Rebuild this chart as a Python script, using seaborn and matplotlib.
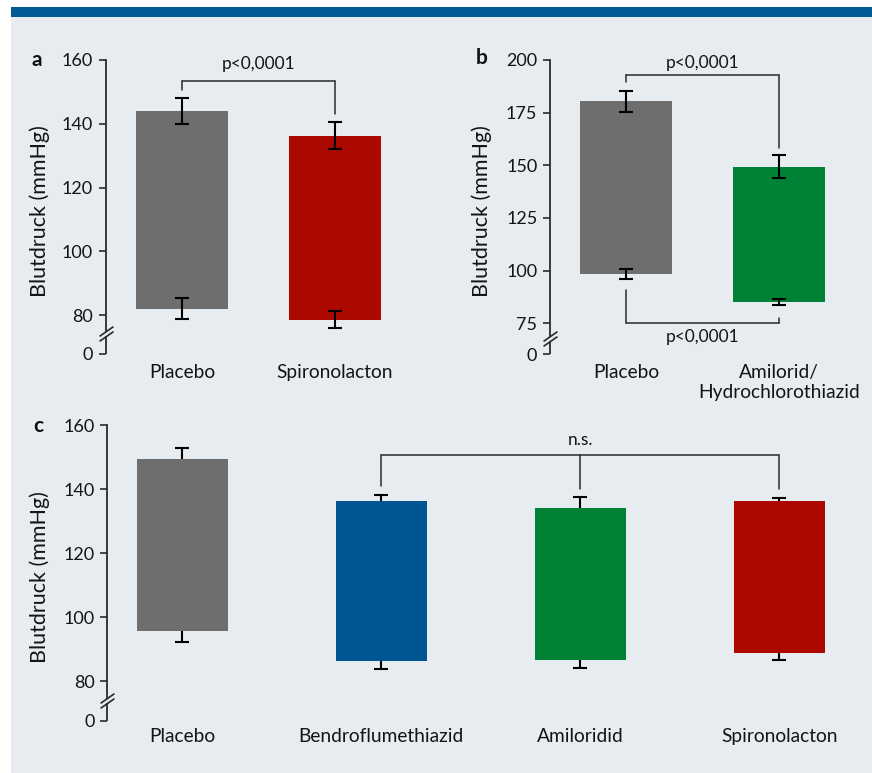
import matplotlib
matplotlib.use("Agg")
import matplotlib.pyplot as plt
from matplotlib.patches import Rectangle
import seaborn as sns

sns.set_style("ticks")
plt.rcParams["font.family"] = ["Lato", "DejaVu Sans"]

# --- data (mmHg): systolic / diastolic mean with error ---
a_cats = ["Placebo", "Spironolacton"]
a_sys = [144.0, 136.3]
a_sys_err = [4.0, 4.2]
a_dia = [82.0, 78.5]
a_dia_err = [3.3, 2.7]

b_cats = ["Placebo", "Amilorid/\nHydrochlorothiazid"]
b_sys = [180.3, 149.3]
b_sys_err = [5.0, 5.5]
b_dia = [98.3, 85.0]
b_dia_err = [2.5, 1.5]

c_cats = ["Placebo", "Bendroflumethiazid", "Amiloridid", "Spironolacton"]
c_sys = [149.5, 136.4, 134.2, 136.4]
c_sys_err = [3.4, 1.9, 3.4, 0.8]
c_dia = [95.8, 86.4, 86.7, 88.9]
c_dia_err = [3.6, 2.5, 2.5, 2.2]

a_ticks = [80, 100, 120, 140, 160]
b_ticks = [75, 100, 125, 150, 175, 200]
c_ticks = [80, 100, 120, 140, 160]

GRAY = "#6e6e6e"
RED = "#ab0800"
GREEN = "#008236"
BLUE = "#005593"
BG = "#e7ecf0"
LINE = "#2a2a2a"
TXT = "#141414"

a_colors = [GRAY, RED]
b_colors = [GRAY, GREEN]
c_colors = [GRAY, BLUE, GREEN, RED]

fig = plt.figure(figsize=(8.72, 7.73), dpi=100)
fig.patch.set_facecolor("white")
fig.add_artist(Rectangle((11 / 872, 0), 1, 1 - 17 / 773, transform=fig.transFigure,
                         facecolor=BG, edgecolor="none", zorder=-10))
fig.add_artist(Rectangle((11 / 872, 1 - 17 / 773), 1, 10 / 773, transform=fig.transFigure,
                         facecolor="#005a94", edgecolor="none", zorder=-10))


def panel(rect, cats, sys_v, sys_e, dia_v, dia_e, colors, ticks, y0, brk, gap,
          width, xlim, err_behind=False, pad=7):
    ax = fig.add_axes(rect)
    ax.set_facecolor("none")
    span = [s - d for s, d in zip(sys_v, dia_v)]
    sns.barplot(x=cats, y=span, hue=cats, palette=colors, width=width,
                errorbar=None, legend=False, saturation=1, linewidth=0, ax=ax)
    for p, d in zip(ax.patches, dia_v):
        p.set_y(d)
        p.set_zorder(2)
    z = 1 if err_behind else 3
    xs = list(range(len(cats)))
    for vals, errs in ((sys_v, sys_e), (dia_v, dia_e)):
        ax.errorbar(xs, vals, yerr=errs, fmt="none", ecolor="black",
                    elinewidth=1.5, capsize=4.7, capthick=1.5, zorder=z)
    ax.set_xlim(*xlim)
    ax.set_ylim(y0, ticks[-1])
    ax.set_yticks([y0] + ticks)
    ax.set_yticklabels(["0"] + [str(t) for t in ticks])
    ax.tick_params(axis="y", length=5, width=1.2, color=LINE, labelsize=13,
                   labelcolor=TXT, pad=4)
    ax.tick_params(axis="x", length=0, labelsize=13.8, labelcolor=TXT, pad=pad)
    for s in ("top", "right", "bottom"):
        ax.spines[s].set_visible(False)
    ax.spines["left"].set_color(LINE)
    ax.spines["left"].set_linewidth(1.3)
    ax.spines["left"].set_bounds(brk + gap, ticks[-1])
    tr = ax.get_yaxis_transform()
    ax.plot([0, 0], [y0, brk - gap], transform=tr, color=LINE, lw=1.3,
            clip_on=False, solid_capstyle="butt")
    for yb in (brk - gap, brk + gap):
        ax.plot([0], [yb], transform=tr, marker=[(-1, -0.7), (1, 0.7)],
                markersize=10, linestyle="none", mec=LINE, mew=1.2, clip_on=False)
    ax.set_ylabel("Blutdruck (mmHg)", fontsize=15.5, color=TXT)
    return ax


def bracket(ax, xs, y, ends, label, ty):
    ax.plot([xs[0], xs[-1]], [y, y], color=LINE, lw=1.1, clip_on=False)
    for x, e in zip(xs, ends):
        ax.plot([x, x], [y, e], color=LINE, lw=1.1, clip_on=False)
    ax.text((xs[0] + xs[-1]) / 2, ty, label, ha="center", va="center",
            fontsize=12.5, color=TXT)


# panel a
ax_a = panel([105.5 / 872, 1 - 354 / 773, 306 / 872, 294 / 773], a_cats, a_sys, a_sys_err,
             a_dia, a_dia_err, a_colors, a_ticks, 67.8, 74.2, 0.8, 0.6, (-0.5, 1.5))
ax_a.yaxis.set_label_coords(-0.18, 0.485)
bracket(ax_a, [0, 1], 153.3, [150.5, 143.0], "p<0,0001", 158.6)

# panel b
ax_b = panel([549.8 / 872, 1 - 354 / 773, 306 / 872, 294 / 773], b_cats, b_sys, b_sys_err,
             b_dia, b_dia_err, b_colors, b_ticks, 60.4, 67.9, 1.2, 0.6, (-0.5, 1.5))
ax_b.yaxis.set_label_coords(-0.19, 0.485)
bracket(ax_b, [0, 1], 193.0, [189.7, 158.0], "p<0,0001", 198.4)
bracket(ax_b, [0, 1], 75.0, [90.6, 77.6], "p<0,0001", 68.3)

# panel c
ax_c = panel([107 / 872, 1 - 720.7 / 773, 747.6 / 872, 295.4 / 773], c_cats, c_sys, c_sys_err,
             c_dia, c_dia_err, c_colors, c_ticks, 67.6, 74.0, 0.8, 0.457, (-0.378, 3.378),
             err_behind=True, pad=5)
ax_c.yaxis.set_label_coords(-0.076, 0.486)
bracket(ax_c, [1, 2, 3], 150.6, [140.9, 140.0, 140.0], "n.s.", 155.5)

for lbl, x, y in (("a", 37, 60), ("b", 482, 58), ("c", 38, 426)):
    fig.text(x / 872, 1 - y / 773, lbl, ha="center", va="center",
             fontsize=15, fontweight="bold", color="#111111")

fig.savefig("out.png", dpi=100, facecolor=fig.get_facecolor())
